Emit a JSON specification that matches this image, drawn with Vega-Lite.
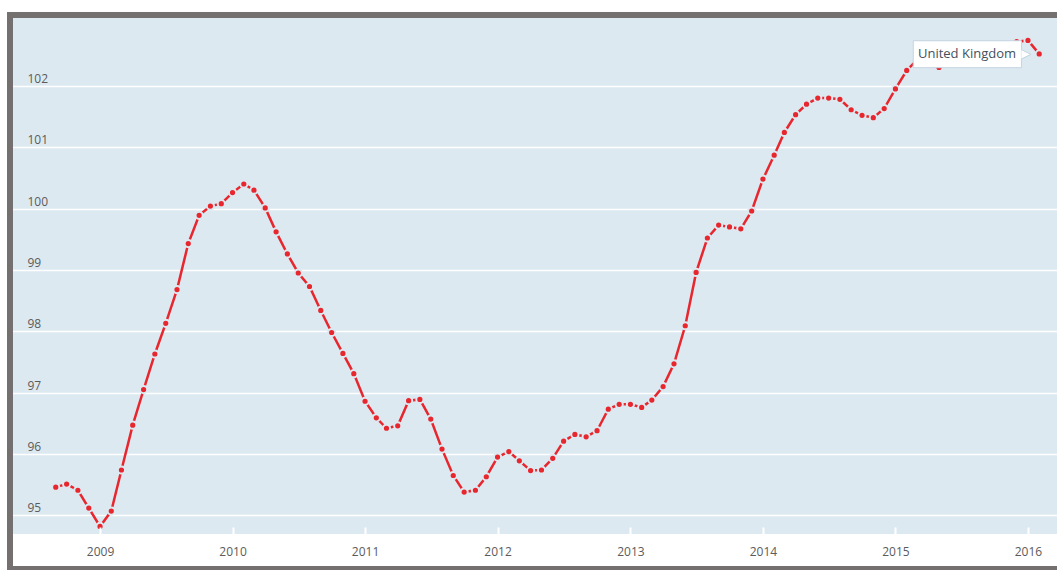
{
  "$schema": "https://vega.github.io/schema/vega-lite/v6.json",
  "width": 1047,
  "height": 554,
  "autosize": {"type": "none"},
  "padding": {"left": 10, "top": 15, "right": 0, "bottom": 1},
  "background": "white",
  "config": {
    "view": {"fill": "#dde9f1", "stroke": null},
    "font": "Open Sans"
  },
  "data": {
    "values": [
      {"date": "2008-09-01", "value": 95.46},
      {"date": "2008-10-01", "value": 95.51},
      {"date": "2008-11-01", "value": 95.41},
      {"date": "2008-12-01", "value": 95.12},
      {"date": "2009-01-01", "value": 94.82},
      {"date": "2009-02-01", "value": 95.07},
      {"date": "2009-03-01", "value": 95.74},
      {"date": "2009-04-01", "value": 96.47},
      {"date": "2009-05-01", "value": 97.05},
      {"date": "2009-06-01", "value": 97.63},
      {"date": "2009-07-01", "value": 98.13},
      {"date": "2009-08-01", "value": 98.68},
      {"date": "2009-09-01", "value": 99.43},
      {"date": "2009-10-01", "value": 99.89},
      {"date": "2009-11-01", "value": 100.04},
      {"date": "2009-12-01", "value": 100.08},
      {"date": "2010-01-01", "value": 100.26},
      {"date": "2010-02-01", "value": 100.40},
      {"date": "2010-03-01", "value": 100.30},
      {"date": "2010-04-01", "value": 100.01},
      {"date": "2010-05-01", "value": 99.62},
      {"date": "2010-06-01", "value": 99.26},
      {"date": "2010-07-01", "value": 98.95},
      {"date": "2010-08-01", "value": 98.73},
      {"date": "2010-09-01", "value": 98.34},
      {"date": "2010-10-01", "value": 97.98},
      {"date": "2010-11-01", "value": 97.64},
      {"date": "2010-12-01", "value": 97.31},
      {"date": "2011-01-01", "value": 96.86},
      {"date": "2011-02-01", "value": 96.59},
      {"date": "2011-03-01", "value": 96.42},
      {"date": "2011-04-01", "value": 96.46},
      {"date": "2011-05-01", "value": 96.87},
      {"date": "2011-06-01", "value": 96.89},
      {"date": "2011-07-01", "value": 96.57},
      {"date": "2011-08-01", "value": 96.08},
      {"date": "2011-09-01", "value": 95.65},
      {"date": "2011-10-01", "value": 95.38},
      {"date": "2011-11-01", "value": 95.41},
      {"date": "2011-12-01", "value": 95.63},
      {"date": "2012-01-01", "value": 95.95},
      {"date": "2012-02-01", "value": 96.04},
      {"date": "2012-03-01", "value": 95.89},
      {"date": "2012-04-01", "value": 95.73},
      {"date": "2012-05-01", "value": 95.74},
      {"date": "2012-06-01", "value": 95.93},
      {"date": "2012-07-01", "value": 96.21},
      {"date": "2012-08-01", "value": 96.32},
      {"date": "2012-09-01", "value": 96.28},
      {"date": "2012-10-01", "value": 96.38},
      {"date": "2012-11-01", "value": 96.73},
      {"date": "2012-12-01", "value": 96.81},
      {"date": "2013-01-01", "value": 96.81},
      {"date": "2013-02-01", "value": 96.76},
      {"date": "2013-03-01", "value": 96.88},
      {"date": "2013-04-01", "value": 97.10},
      {"date": "2013-05-01", "value": 97.47},
      {"date": "2013-06-01", "value": 98.09},
      {"date": "2013-07-01", "value": 98.96},
      {"date": "2013-08-01", "value": 99.52},
      {"date": "2013-09-01", "value": 99.73},
      {"date": "2013-10-01", "value": 99.70},
      {"date": "2013-11-01", "value": 99.67},
      {"date": "2013-12-01", "value": 99.96},
      {"date": "2014-01-01", "value": 100.48},
      {"date": "2014-02-01", "value": 100.87},
      {"date": "2014-03-01", "value": 101.24},
      {"date": "2014-04-01", "value": 101.53},
      {"date": "2014-05-01", "value": 101.70},
      {"date": "2014-06-01", "value": 101.80},
      {"date": "2014-07-01", "value": 101.80},
      {"date": "2014-08-01", "value": 101.78},
      {"date": "2014-09-01", "value": 101.61},
      {"date": "2014-10-01", "value": 101.52},
      {"date": "2014-11-01", "value": 101.48},
      {"date": "2014-12-01", "value": 101.63},
      {"date": "2015-01-01", "value": 101.95},
      {"date": "2015-02-01", "value": 102.25},
      {"date": "2015-03-01", "value": 102.42},
      {"date": "2015-04-01", "value": 102.38},
      {"date": "2015-05-01", "value": 102.30},
      {"date": "2015-06-01", "value": 102.36},
      {"date": "2015-07-01", "value": 102.45},
      {"date": "2015-08-01", "value": 102.50},
      {"date": "2015-09-01", "value": 102.52},
      {"date": "2015-10-01", "value": 102.58},
      {"date": "2015-11-01", "value": 102.65},
      {"date": "2015-12-01", "value": 102.72},
      {"date": "2016-01-01", "value": 102.74},
      {"date": "2016-02-01", "value": 102.52}
    ]
  },
  "layer": [
    {
      "mark": {"type": "line", "color": "#e8262e", "strokeWidth": 2.5},
      "encoding": {
        "x": {
          "field": "date", "type": "temporal",
          "scale": {"type": "utc", "domain": [{"year": 2008, "month": 4, "date": 28, "utc": true}, {"year": 2016, "month": 3, "date": 21, "utc": true}], "nice": false},
          "axis": {
            "orient": "bottom", "offset": -35, "title": null, "format": "%Y",
            "values": [
              {"year": 2009, "month": 1, "date": 1, "utc": true},
              {"year": 2010, "month": 1, "date": 1, "utc": true},
              {"year": 2011, "month": 1, "date": 1, "utc": true},
              {"year": 2012, "month": 1, "date": 1, "utc": true},
              {"year": 2013, "month": 1, "date": 1, "utc": true},
              {"year": 2014, "month": 1, "date": 1, "utc": true},
              {"year": 2015, "month": 1, "date": 1, "utc": true},
              {"year": 2016, "month": 1, "date": 1, "utc": true}
            ],
            "grid": false, "domain": false,
            "tickSize": -7, "tickColor": "white", "tickWidth": 2,
            "labelPadding": 19, "labelFlush": false, "labelFontSize": 12, "labelColor": "#5b5b5b",
            "zindex": 1
          }
        },
        "y": {
          "field": "value", "type": "quantitative",
          "scale": {"domain": [94.1265, 103.154], "zero": false, "nice": false},
          "axis": {
            "title": null, "values": [95, 96, 97, 98, 99, 100, 101, 102], "format": "d",
            "grid": true, "gridColor": "white", "gridWidth": 1.5,
            "domain": false, "ticks": false,
            "labelAlign": "left", "labelPadding": -17, "labelBaseline": "alphabetic", "labelOffset": -3.5,
            "labelFontSize": 12, "labelColor": "#5b5b5b", "zindex": 0
          }
        }
      }
    },
    {
      "data": {"values": [{"band": "axis strip"}]},
      "mark": {"type": "rect", "fill": "white"},
      "encoding": {
        "y": {"datum": 93.5, "type": "quantitative"},
        "y2": {"datum": 94.697}
      }
    },
    {
      "mark": {"type": "point", "filled": true, "fill": "#e8262e", "stroke": "#dde9f1", "strokeWidth": 2, "size": 52, "opacity": 1},
      "encoding": {
        "x": {"field": "date", "type": "temporal"},
        "y": {"field": "value", "type": "quantitative"}
      }
    },
    {
      "data": {"values": [{"label": "United Kingdom"}]},
      "layer": [
        {
          "mark": {"type": "rect", "fill": "white", "stroke": "#c3d3e0", "strokeWidth": 1},
          "encoding": {
            "x": {"datum": {"year": 2015, "month": 2, "date": 19, "utc": true}, "type": "temporal"},
            "x2": {"datum": {"year": 2015, "month": 12, "date": 14, "utc": true}},
            "y": {"datum": 102.295, "type": "quantitative"},
            "y2": {"datum": 102.735}
          }
        },
        {
          "mark": {"type": "point", "shape": "M-1.1,-0.95L0.8,0L-1.1,0.95", "filled": true, "fill": "white", "stroke": "#c3d3e0", "strokeWidth": 1, "size": 100, "opacity": 1},
          "encoding": {
            "x": {"datum": {"year": 2015, "month": 12, "date": 29, "utc": true}, "type": "temporal"},
            "y": {"datum": 102.513, "type": "quantitative"}
          }
        },
        {
          "mark": {"type": "text", "align": "left", "baseline": "middle", "fontSize": 13, "color": "#44505e"},
          "encoding": {
            "text": {"field": "label", "type": "nominal"},
            "x": {"datum": {"year": 2015, "month": 3, "date": 4, "utc": true}, "type": "temporal"},
            "y": {"datum": 102.526, "type": "quantitative"}
          }
        }
      ]
    },
    {
      "data": {"values": [{"frame": "border"}]},
      "mark": {"type": "rect", "fill": "transparent", "stroke": "#747070", "strokeWidth": 6, "clip": false},
      "encoding": {
        "x": {"datum": {"year": 2008, "month": 4, "date": 28, "utc": true}, "type": "temporal"},
        "x2": {"datum": {"year": 2016, "month": 6, "date": 1, "utc": true}},
        "y": {"datum": 94.1265, "type": "quantitative"},
        "y2": {"datum": 103.154}
      }
    }
  ]
}
